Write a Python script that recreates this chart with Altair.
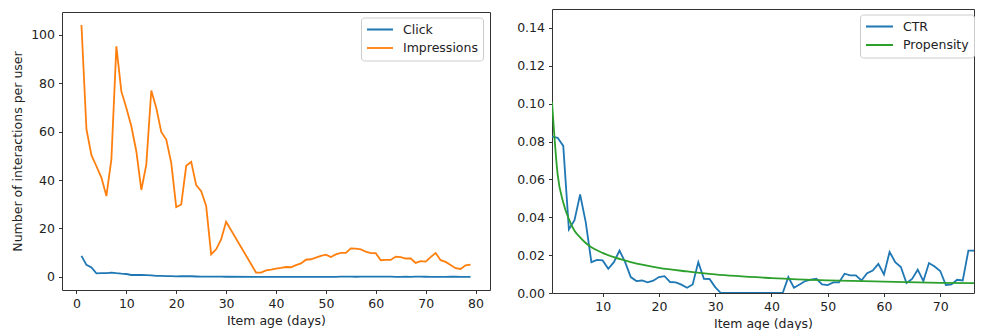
import altair as alt
import pandas as pd

# ---------------- data ----------------
days_left = list(range(1, 31)) + list(range(36, 80))
click = [8.7, 5.0, 3.9, 1.5, 1.55, 1.6, 1.8, 1.55, 1.35, 1.2,
         0.8, 0.85, 0.8, 0.75, 0.65, 0.45, 0.4, 0.32, 0.31, 0.24,
         0.27, 0.27, 0.27, 0.17, 0.1, 0.13, 0.15, 0.085, 0.11, 0.07,
         0, 0, 0, 0, 0, 0, 0,
         0.03, 0.014, 0.025, 0.045, 0.05, 0.06, 0.04, 0.04, 0.046, 0.05,
         0.1, 0.09, 0.11, 0.08, 0.12, 0.12, 0.15, 0.1, 0.15, 0.11,
         0.1, 0.045, 0.06, 0.09, 0.05, 0.09, 0.09, 0.07, 0.035, 0.045,
         0.05, 0.04, 0.11, 0.08, 0.06, 0.03, 0.03]
impressions = [104, 61, 50.3, 45.7, 41, 33.4, 48.5, 95.2, 76.6, 69.8,
               62.2, 51.9, 35.9, 46.4, 77, 69.8, 59.9, 56.7, 47.1, 28.8,
               29.9, 45.9, 47.5, 37.9, 35.4, 29.3, 9.3, 11.4, 15.5, 22.8,
               1.8, 1.8, 2.7, 3.0, 3.4, 3.7, 4.1,
               4.0, 4.9, 5.6, 7.1, 7.3, 8.0, 8.7, 9.2, 8.2, 9.3,
               9.9, 9.9, 11.8, 11.7, 11.4, 10.4, 9.8, 9.8, 6.9, 7.0,
               7.0, 8.4, 8.2, 7.6, 7.6, 5.8, 6.5, 6.3, 8.2, 9.9,
               6.9, 6.2, 4.9, 3.6, 3.3, 4.8, 5.1]

days_ctr = list(range(1, 79))
ctr = [0.0826, 0.082, 0.0777, 0.0336, 0.0385, 0.052, 0.0373, 0.0163, 0.0175, 0.0172,
       0.0128, 0.0163, 0.0224, 0.0163, 0.0084, 0.0063, 0.0066, 0.0056, 0.0065, 0.0084,
       0.0089, 0.0058, 0.0056, 0.0044, 0.0028, 0.0045, 0.0163, 0.0075, 0.0074, 0.0031,
       0, 0, 0, 0, 0, 0, 0, 0, 0, 0, 0, 0,
       0.0084, 0.0028, 0.0045, 0.0063, 0.007, 0.0075, 0.0045, 0.0042, 0.0056, 0.0056,
       0.0102, 0.0093, 0.0093, 0.0066, 0.0105, 0.0119, 0.0154, 0.0098, 0.0217, 0.0163,
       0.0137, 0.0053, 0.0074, 0.0123, 0.0063, 0.0158, 0.014, 0.0116, 0.0042, 0.0045,
       0.007, 0.0066, 0.0224, 0.0224, 0.0189, 0.006]

days_prop = [1, 2, 3, 4, 5, 6, 7, 8, 10, 12, 15, 20, 25, 30, 40, 50, 60, 70, 78]
propensity = [0.101, 0.0627, 0.0478, 0.039, 0.0329, 0.0294, 0.0264, 0.0242, 0.0212, 0.0189,
              0.0163, 0.0133, 0.0114, 0.0098, 0.0079, 0.0067, 0.006, 0.0054, 0.0051]

left_series = ["Click", "Impressions"]
left_colors = ["#1f77b4", "#ff7f0e"]
right_series = ["CTR", "Propensity"]
right_colors = ["#1f77b4", "#2ca02c"]

left_ticks_x = list(range(0, 81, 10))
left_ticks_y = [0, 20, 40, 60, 80, 100]
right_ticks_x = list(range(10, 71, 10))
right_ticks_y = [0.0, 0.02, 0.04, 0.06, 0.08, 0.10, 0.12, 0.14]

# ---------------- frames ----------------
n = len(days_left)
left_df = pd.DataFrame({
    "day": days_left + days_left,
    "value": click + impressions,
    "series": ["Click"] * n + ["Impressions"] * n,
})
ctr_df = pd.DataFrame({"day": days_ctr, "value": ctr, "series": "CTR"})
prop_df = pd.DataFrame({"day": days_prop, "value": propensity, "series": "Propensity"})

FONT = "DejaVu Sans"
FS = 12.5


def legend(x, y, size):
    return alt.Legend(
        title=None, orient="none", legendX=x, legendY=y,
        symbolType="stroke", symbolSize=size, symbolStrokeWidth=1.8,
        labelFont=FONT, labelFontSize=FS, labelColor="#222",
        labelOffset=9, padding=5, rowPadding=4.5, clipHeight=14,
        fillColor="white", strokeColor="#cccccc", cornerRadius=3,
    )


left = alt.Chart(left_df).mark_line(strokeWidth=1.8, clip=True).encode(
    x=alt.X("day:Q",
            scale=alt.Scale(domain=[-2.9, 82.9], nice=False, zero=False),
            axis=alt.Axis(values=left_ticks_x, title="Item age (days)")),
    y=alt.Y("value:Q",
            scale=alt.Scale(domain=[-5.4, 109.4], nice=False, zero=False),
            axis=alt.Axis(values=left_ticks_y, title="Number of interactions per user",
                          titlePadding=6)),
    color=alt.Color("series:N",
                    scale=alt.Scale(domain=left_series, range=left_colors),
                    legend=legend(299, 5.5, 676)),
).properties(width=428, height=278)

x_right = alt.X("day:Q",
                scale=alt.Scale(domain=[1, 76], nice=False, zero=False),
                axis=alt.Axis(values=right_ticks_x, title="Item age (days)"))
y_right = alt.Y("value:Q",
                scale=alt.Scale(domain=[0, 0.15], nice=False, zero=False),
                axis=alt.Axis(values=right_ticks_y, format=".2f", title=None))
color_right = alt.Color("series:N",
                        scale=alt.Scale(domain=right_series, range=right_colors),
                        legend=legend(308, 5.5, 729))

ctr_line = alt.Chart(ctr_df).mark_line(strokeWidth=1.8, clip=True).encode(
    x=x_right, y=y_right, color=color_right)
prop_line = alt.Chart(prop_df).mark_line(strokeWidth=1.8, clip=True, interpolate="monotone").encode(
    x=x_right, y=y_right, color=color_right)

right = alt.layer(ctr_line, prop_line).properties(width=422, height=284)

chart = alt.hconcat(left, right, spacing=62, bounds="flush", center=True).resolve_scale(
    color="independent"
).properties(
    padding={"left": 3, "top": 0, "right": 0, "bottom": 0}
).configure_view(
    stroke="#333", strokeWidth=1
).configure_axis(
    grid=False, domain=False,
    labelFont=FONT, labelFontSize=FS, labelColor="#222",
    titleFont=FONT, titleFontSize=FS, titleColor="#222", titleFontWeight="normal",
    tickSize=3.5, tickColor="#333", tickWidth=1,
    labelPadding=4, titlePadding=4,
)

chart.save("out.html", embed_options={"renderer": "svg", "actions": False})
